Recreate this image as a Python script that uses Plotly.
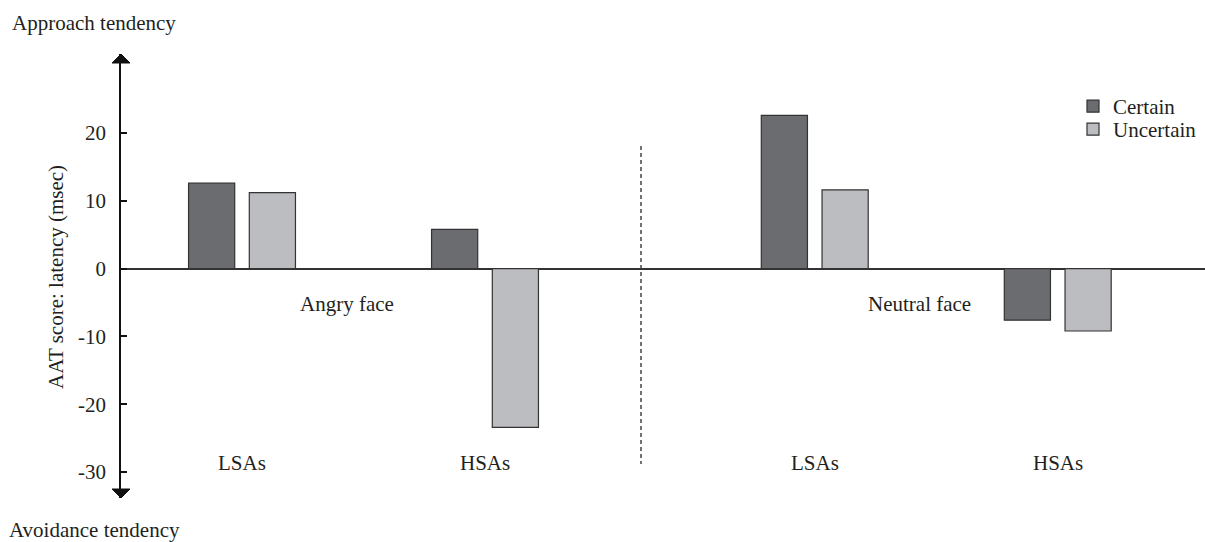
import plotly.graph_objects as go

# ---- data ----
faces = ["Angry face", "Neutral face"]
groups = ["LSAs", "HSAs"]
certain = [12.6, 5.8, 22.6, -7.6]      # Angry LSAs, Angry HSAs, Neutral LSAs, Neutral HSAs
uncertain = [11.2, -23.4, 11.6, -9.2]
series_names = ["Certain", "Uncertain"]
y_ticks = [-30, -20, -10, 0, 10, 20]
y_tick_text = ["-30", "-20", "-10", "0", "10", "20"]

# ---- layout helpers ----
FONT = "Liberation Serif"
TXT = "#231f20"
face_step = 2.357          # distance between the two face blocks (in group units)
divider_x = 1.642
W, H = 1205, 542
ML, MR, MT, MB = 121, 0, 54, 44
PW, PH = W - ML - MR, H - MT - MB


def px_x(px):
    return (px - ML) / PW


def px_y(py):
    return (H - MB - py) / PH


xpos = [fi * face_step + gi for fi in range(len(faces)) for gi in range(len(groups))]

fig = go.Figure()
fig.add_bar(x=xpos, y=certain, name=series_names[0], legend="legend",
            marker=dict(color="#6b6c70", line=dict(color="#333333", width=1.2)))
fig.add_bar(x=xpos, y=uncertain, name=series_names[1], legend="legend2",
            marker=dict(color="#bcbdc0", line=dict(color="#333333", width=1.2)))

# group labels (LSAs/HSAs) and face labels
for i, x in enumerate(xpos):
    fig.add_annotation(x=x, y=-28.7, xref="x", yref="y", text=groups[i % 2],
                       showarrow=False, font=dict(family=FONT, size=21, color=TXT))
for fi, f in enumerate(faces):
    fig.add_annotation(x=fi * face_step + 0.43, y=-5.2, xref="x", yref="y", text=f,
                       showarrow=False, font=dict(family=FONT, size=21, color=TXT))

# axis end labels and y title
fig.add_annotation(x=px_x(10), y=px_y(23), xref="paper", yref="paper",
                   text="Approach tendency", showarrow=False, xanchor="left", yanchor="middle",
                   font=dict(family=FONT, size=21, color=TXT))
fig.add_annotation(x=px_x(7), y=px_y(530), xref="paper", yref="paper",
                   text="Avoidance tendency", showarrow=False, xanchor="left", yanchor="middle",
                   font=dict(family=FONT, size=21, color=TXT))
fig.add_annotation(x=px_x(56), y=px_y(277), xref="paper", yref="paper",
                   text="AAT score: latency (msec)", showarrow=False, textangle=-90,
                   xanchor="center", yanchor="middle",
                   font=dict(family=FONT, size=21, color=TXT))

# arrowheads on the y axis
hw, hh = 9 / PW, 9 / PH
fig.add_shape(type="path", xref="paper", yref="paper",
              path=f"M 0,1 L {hw},{1-hh} L {-hw},{1-hh} Z",
              fillcolor="#111111", line=dict(color="#111111", width=1))
fig.add_shape(type="path", xref="paper", yref="paper",
              path=f"M 0,0 L {hw},{hh} L {-hw},{hh} Z",
              fillcolor="#111111", line=dict(color="#111111", width=1))

# dashed divider
fig.add_shape(type="line", xref="x", yref="y", x0=divider_x, x1=divider_x, y0=18.1, y1=-28.8,
              line=dict(color="#444444", width=1.5, dash="4px,3px"))

legend_common = dict(xanchor="left", yanchor="top", bgcolor="rgba(0,0,0,0)",
                     font=dict(family=FONT, size=21, color=TXT), itemwidth=30)
fig.update_layout(
    width=W, height=H,
    margin=dict(l=ML, r=MR, t=MT, b=MB),
    paper_bgcolor="white", plot_bgcolor="white",
    barmode="group", bargap=0.5, bargroupgap=0.24,
    font=dict(family=FONT, size=21, color=TXT),
    showlegend=True,
    legend=dict(x=px_x(1073), y=px_y(86), **legend_common),
    legend2=dict(x=px_x(1073), y=px_y(109), **legend_common),
)
fig.update_xaxes(visible=False, range=[-0.498, 3.963])
fig.update_yaxes(range=[-33.83, 31.65], tickvals=y_ticks, ticktext=y_tick_text,
                 ticks="inside", ticklen=6,
                 tickwidth=1.5, tickcolor="#111111", showline=True, linecolor="#111111",
                 linewidth=1.5, showgrid=False, zeroline=True, zerolinecolor="#333333",
                 zerolinewidth=1.5, ticklabelstandoff=9,
                 tickfont=dict(family=FONT, size=21, color=TXT))

fig.write_html("out.html", config={"displayModeBar": False},
               post_script="document.body.style.margin='0';document.body.style.overflow='hidden';")
